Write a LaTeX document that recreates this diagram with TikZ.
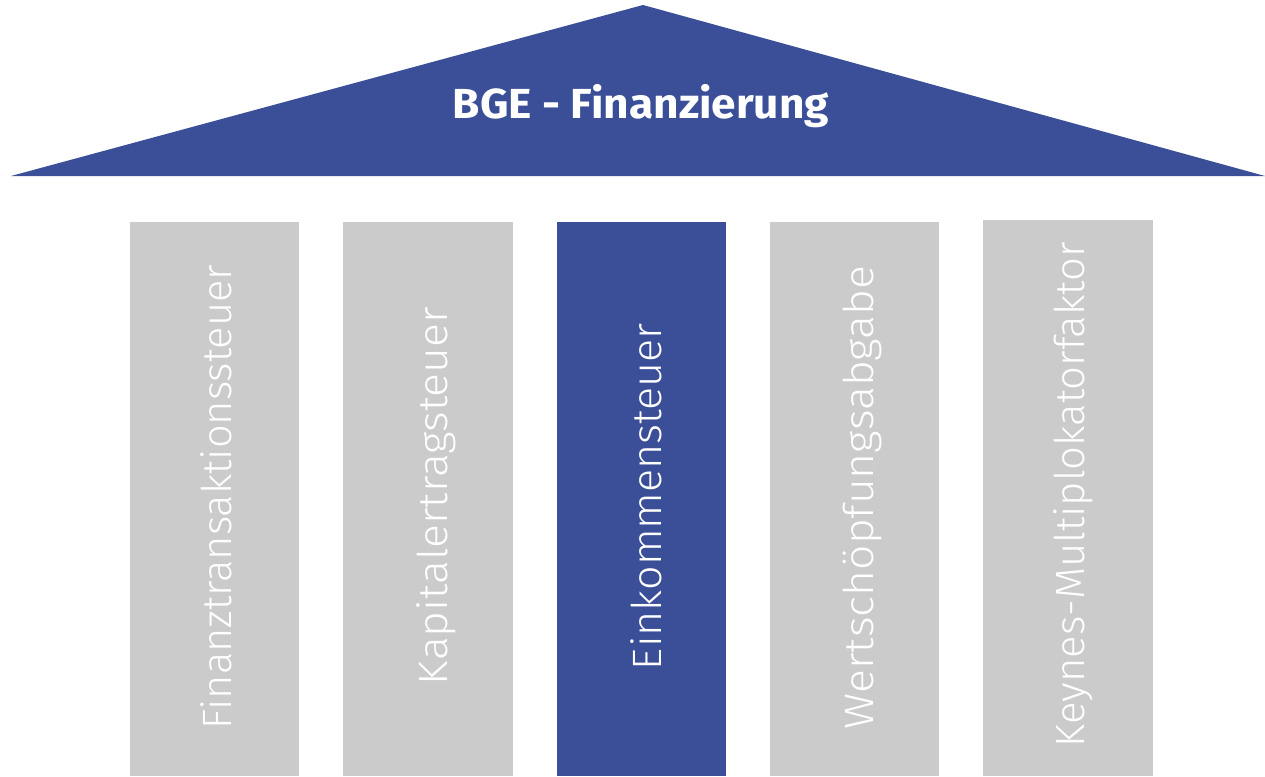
\documentclass[tikz,border=0pt]{standalone}
\usepackage{fontspec}
\usepackage{graphicx}
\setmainfont{Fira Sans}
\newfontfamily\lightfont{Fira Sans Light}
\definecolor{roofblue}{HTML}{3A4F98}
\definecolor{pillargray}{HTML}{CBCBCB}
\newcommand{\fitlen}[2]{\resizebox{#1pt}{\height}{#2}}
\begin{document}
\begin{tikzpicture}[x=1pt,y=-1pt,
  pillar/.style={fill=pillargray, draw=none},
  hlpillar/.style={fill=roofblue, draw=none},
  pillartext/.style={rotate=90, anchor=base, text=white, inner sep=0pt, font=\lightfont\fontsize{41}{44}\selectfont},
  rooftext/.style={anchor=base, text=white, inner sep=0pt, font=\bfseries\fontsize{42}{46}\selectfont}]
\useasboundingbox (0,0) rectangle (1265,776);
% roof
\fill[roofblue] (643,5) -- (1265,176) -- (11,176) -- cycle;
\coordinate (roofc) at (641,118);
\node[rooftext] (roof) at (roofc) {\fitlen{376}{BGE - Finanzierung}};
% pillars
\fill[pillar] (130,222) rectangle (299,776);
\fill[pillar] (343,222) rectangle (513,776);
\fill[hlpillar] (557,222) rectangle (726,776);
\fill[pillar] (770,222) rectangle (939,776);
\fill[pillar] (983,220) rectangle (1153,776);
\node[pillartext] (p1) at (231,497) {\fitlen{464}{Finanztransaktionssteuer}};
\node[pillartext] (p2) at (447,496) {\fitlen{378}{Kapitalertragsteuer}};
\node[pillartext] (p3) at (661,496.5) {\fitlen{347}{Einkommensteuer}};
\node[pillartext] (p4) at (873,497.5) {\fitlen{463}{Wertschöpfungsabgabe}};
\node[pillartext] (p5) at (1084,494.5) {\fitlen{505}{Keynes-Multiplokatorfaktor}};
\end{tikzpicture}
\end{document}
